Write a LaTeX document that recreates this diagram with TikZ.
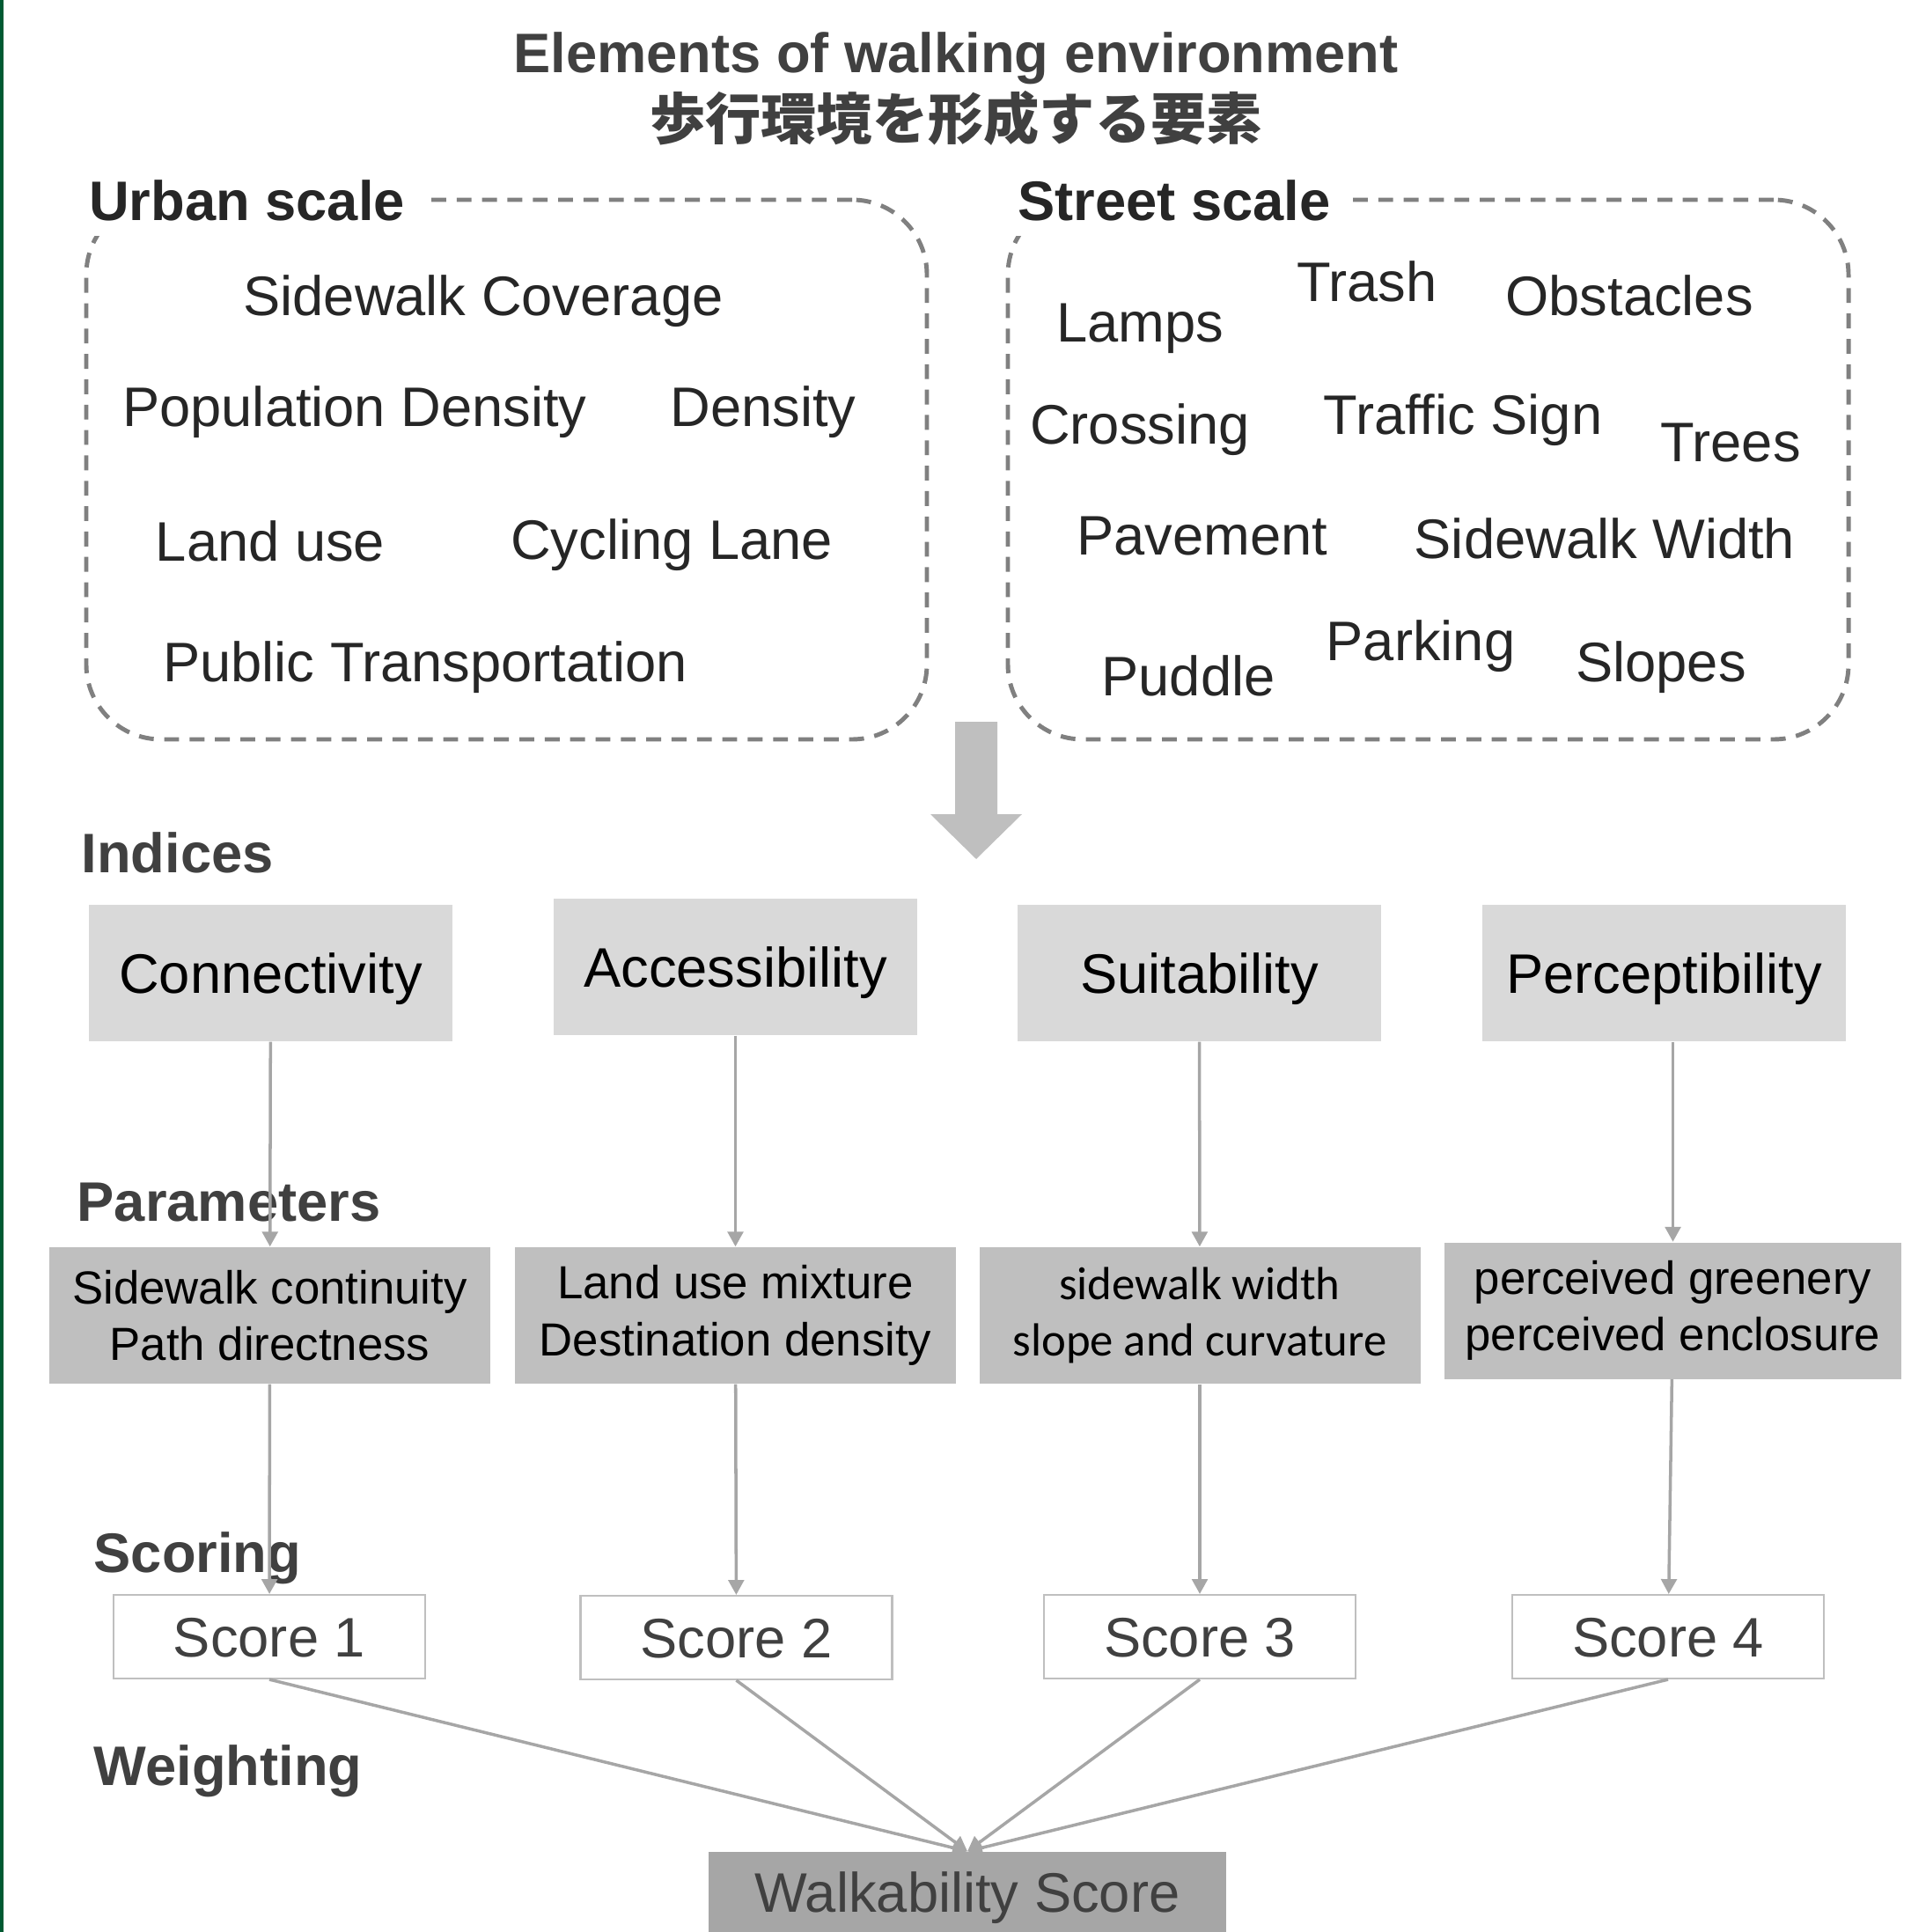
\documentclass[tikz,border=0pt]{standalone}
\usepackage{fontspec}
\setmainfont{Liberation Sans}
\newfontfamily\cjk{Noto Sans CJK JP}
\newfontfamily\cali{Carlito}
\usetikzlibrary{positioning, arrows.meta}
\definecolor{hdc}{HTML}{404040}
\definecolor{ink}{HTML}{262626}
\definecolor{dashc}{HTML}{808080}
\definecolor{idx}{HTML}{D9D9D9}
\definecolor{par}{HTML}{BFBFBF}
\definecolor{lnc}{HTML}{A6A6A6}
\definecolor{edgec}{HTML}{005A32}
\newcommand{\fbig}{\fontsize{18}{22}\selectfont}
\newcommand{\fmid}{\fontsize{15}{18.3}\selectfont}
\begin{document}
\begin{tikzpicture}[
      hd/.style={font=\fbig\bfseries, text=hdc, inner sep=0pt, text height=12.9pt, text depth=0pt},
      lbl/.style={hd, text=ink, fill=white, anchor=west, inner xsep=7pt, inner ysep=5pt},
      it/.style={font=\fbig, text=ink, inner sep=0pt, text height=12.9pt, text depth=0pt},
      dbox/.style={draw=dashc, line width=1.4pt, dash pattern=on 4.8pt off 3.4pt, rounded corners=0.85cm, minimum width=9.55cm, minimum height=6.13cm},
      ix/.style={fill=idx, minimum width=4.13cm, minimum height=1.55cm, inner sep=0pt, font=\fbig, text height=12.9pt, text depth=0pt},
      pm/.style={fill=par, minimum width=5.01cm, minimum height=1.55cm, inner sep=0pt, font=\fmid, align=center},
      sc/.style={draw=par, line width=0.6pt, fill=white, minimum width=3.54cm, minimum height=0.95cm, inner sep=0pt, font=\fbig, text=hdc, text height=12.9pt, text depth=0pt},
      arr/.style={-{Triangle[width=5pt,length=4.8pt]}, draw=lnc, line width=1pt}]
      \useasboundingbox (0,0) rectangle (21.7,-21.95);
      \fill[edgec] (0,0) rectangle (0.04,-21.95);
      \node[hd] (ttl) at (10.86,-0.60) {Elements of walking environment};
      \node[hd, font=\fbig\cjk\bfseries] (ttljp) at (10.86,-1.36) {歩行環境を形成する要素};
      \node[dbox] (urb) at (5.755,-5.335) {}; \node[dbox] (str) at (16.225,-5.335) {};
      \node[lbl] (urblbl) at (0.76,-2.28) {Urban scale}; \node[lbl] (strlbl) at (11.31,-2.28) {Street scale};
      \node[it] (cov) at (5.49,-3.36) {Sidewalk Coverage};
      \node[it] (pop) at (4.03,-4.62) {Population Density}; \node[it] (den) at (8.67,-4.62) {Density};
      \node[it] (land) at (3.07,-6.15) {Land use}; \node[it] (cyc) at (7.63,-6.13) {Cycling Lane};
      \node[it] (pub) at (4.83,-7.52) {Public Transportation};
      \node[it] (lamp) at (12.95,-3.66) {Lamps}; \node[it] (trash) at (15.53,-3.20) {Trash};
      \node[it] (obst) at (18.51,-3.36) {Obstacles};
      \node[it] (cross) at (12.95,-4.82) {Crossing}; \node[it] (sign) at (16.62,-4.71) {Traffic Sign};
      \node[it] (tree) at (19.66,-5.02) {Trees};
      \node[it] (pave) at (13.66,-6.08) {Pavement}; \node[it] (swid) at (18.23,-6.12) {Sidewalk Width};
      \node[it] (pud) at (13.50,-7.68) {Puddle}; \node[it] (park) at (16.14,-7.28) {Parking};
      \node[it] (slope) at (18.87,-7.52) {Slopes};
      \fill[par] (10.85,-8.20) -- (11.33,-8.20) -- (11.33,-9.25) -- (11.61,-9.25) -- (11.09,-9.76)
        -- (10.57,-9.25) -- (10.85,-9.25) -- cycle;
      \node[hd, anchor=west] (lind) at (0.92,-9.69) {Indices};
      \node[hd, anchor=west] (lpar) at (0.87,-13.65) {Parameters};
      \node[hd, anchor=west] (lsco) at (1.06,-17.64) {Scoring};
      \node[hd, anchor=west] (lwei) at (1.06,-20.06) {Weighting};
      \node[ix] (ix1) at (3.075,-11.055) {Connectivity}; \node[ix] (ix2) at (8.355,-10.985) {Accessibility};
      \node[ix] (ix3) at (13.625,-11.055) {Suitability}; \node[ix] (ix4) at (18.905,-11.055) {Perceptibility};
      \node[pm] (pm1) at (3.065,-14.945) {Sidewalk continuity\\Path directness};
      \node[pm] (pm2) at (8.355,-14.945) {Land use mixture\\Destination density};
      \node[pm, font=\fmid\cali] (pm3) at (13.63,-14.945) {sidewalk width\\slope and curvature};
      \node[pm, minimum width=5.19cm] (pm4) at (19.005,-14.89) {perceived greenery\\perceived enclosure};
      \node[sc] (sc1) at (3.06,-18.595) {Score 1}; \node[sc] (sc2) at (8.365,-18.605) {Score 2};
      \node[sc] (sc3) at (13.63,-18.595) {Score 3}; \node[sc] (sc4) at (18.95,-18.595) {Score 4};
      \node[fill=lnc, minimum width=5.88cm, minimum height=0.91cm, inner sep=0pt, font=\fbig, text=hdc,
        text height=12.9pt, text depth=0pt] (walk) at (10.99,-21.495) {Walkability Score};
      \draw[arr] (ix1) -- (pm1); \draw[arr] (ix2) -- (pm2);
      \draw[arr] (ix3) -- (pm3); \draw[arr] (pm4.north |- ix4.south) -- (pm4);
      \draw[arr] (pm1) -- (sc1); \draw[arr] (pm2) -- (sc2);
      \draw[arr] (pm3) -- (sc3); \draw[arr] (pm4) -- (sc4);
      \draw[arr] (sc1.south) -- (walk.north); \draw[arr] (sc2.south) -- (walk.north);
      \draw[arr] (sc3.south) -- (walk.north); \draw[arr] (sc4.south) -- (walk.north);
    \end{tikzpicture}
\end{document}
